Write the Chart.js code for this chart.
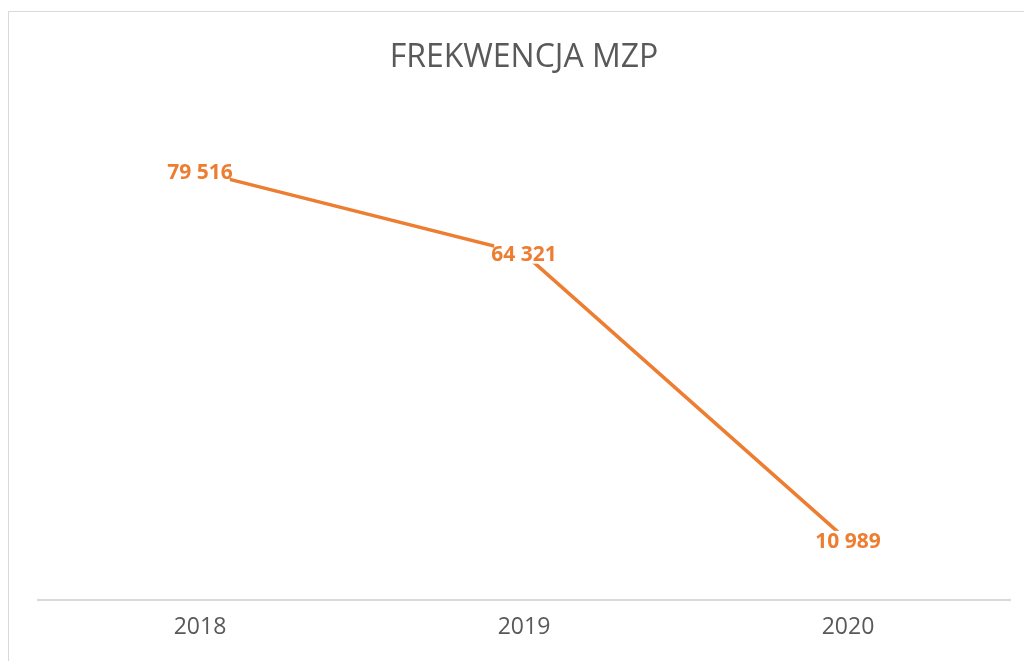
<!DOCTYPE html>
<html>
<head>
<meta charset="utf-8">
<script src="https://cdn.jsdelivr.net/npm/chart.js@4"></script>
<style>
  html, body { margin: 0; padding: 0; background: #fff; }
  #wrap { position: relative; width: 1024px; height: 661px; overflow: hidden; }
  #frame { position: absolute; left: 8px; top: 11px; width: 1100px; height: 700px; border: 1px solid #d9d9d9; box-sizing: border-box; }
  #chart { position: absolute; left: 0; top: 0; }
</style>
</head>
<body>
<div id="wrap">
  <div id="frame"></div>
  <canvas id="chart" width="1024" height="661"></canvas>
</div>
<script>
const years = ["2018", "2019", "2020"];
const attendance = [79516, 64321, 10989];
const chartTitle = "FREKWENCJA MZP";

const orange = "#ED7D31";
const grey = "#595959";

// "79 516" style with a space as thousands separator
function fmt(v) {
  return String(v).replace(/\B(?=(\d{3})+(?!\d))/g, " ");
}

// labels sit on top of the points with a white box, like Excel does
const pointLabels = {
  id: "pointLabels",
  afterDatasetsDraw(chart) {
    const ctx = chart.ctx;
    const meta = chart.getDatasetMeta(0);
    ctx.save();
    ctx.font = "bold 21px 'Open Sans'";
    ctx.textAlign = "center";
    ctx.textBaseline = "middle";
    meta.data.forEach((pt, i) => {
      const txt = fmt(attendance[i]);
      const w = ctx.measureText(txt).width;
      ctx.fillStyle = "#fff";
      ctx.fillRect(pt.x - w / 2 + 3, pt.y - 10, w - 6, 20);
      ctx.fillStyle = orange;
      ctx.fillText(txt, pt.x, pt.y + 1);
    });
    ctx.restore();
  },
};

new Chart(document.getElementById("chart"), {
  type: "line",
  data: {
    labels: years,
    datasets: [
      {
        data: attendance,
        borderColor: orange,
        borderWidth: 3.5,
        pointRadius: 0,
        tension: 0,
      },
    ],
  },
  options: {
    responsive: false,
    animation: false,
    layout: { padding: { left: 38, right: 14, top: 0, bottom: 0 } },
    scales: {
      x: {
        offset: true,
        grid: { display: false, drawTicks: false },
        border: { color: "#d9d9d9", width: 2 },
        ticks: { color: grey, font: { family: "'Open Sans'", size: 23 }, padding: 14 },
        afterFit: (s) => { s.height = 61; },
      },
      y: {
        display: false,
        min: 0,
        max: 90000,
      },
    },
    plugins: {
      legend: { display: false },
      tooltip: { enabled: false },
      title: {
        display: true,
        text: chartTitle,
        color: grey,
        font: { family: "'Open Sans'", size: 32, weight: "normal", lineHeight: 1.2 },
        padding: { top: 39, bottom: 38 },
      },
    },
  },
  plugins: [pointLabels],
});
</script>
</body>
</html>
